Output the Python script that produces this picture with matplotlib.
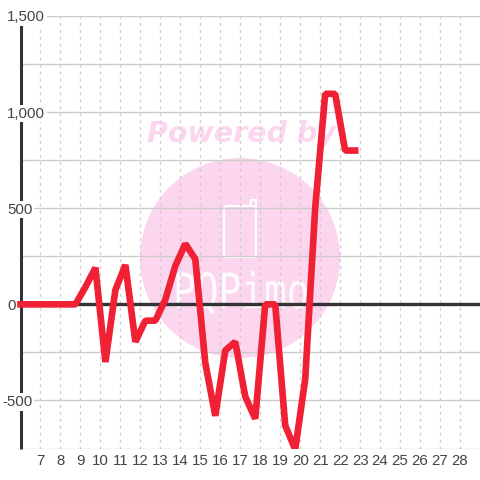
import matplotlib
matplotlib.use("Agg")
import matplotlib.pyplot as plt
from matplotlib.patches import Circle, FancyBboxPatch, PathPatch, Rectangle
from matplotlib.textpath import TextPath
from matplotlib.font_manager import FontProperties
from matplotlib.transforms import Affine2D, blended_transform_factory

plt.rcParams['font.family'] = ['Liberation Sans', 'DejaVu Sans']

# half day readings, day of month
days = [6, 6.25, 6.75, 7.25, 7.75, 8.25, 8.75, 9.25, 9.75, 10.25, 10.75, 11.25, 11.75,
        12.25, 12.75, 13.25, 13.75, 14.25, 14.75, 15.25, 15.75, 16.25, 16.75,
        17.25, 17.75, 18.25, 18.75, 19.25, 19.75, 20.25, 20.75, 21.25, 21.75,
        22.25, 22.75]
values = [0, 0, 0, 0, 0, 0, 0, 90, 190, -300, 75, 205, -195,
          -85, -85, 25, 200, 315, 235, -305, -580, -240, -195,
          -480, -595, 0, 0, -630, -755, -390, 500, 1095, 1095,
          800, 800]
day_ticks = list(range(7, 29))
y_grid = [-750, -500, -250, 0, 250, 500, 750, 1000, 1250, 1500]
y_labels = [-500, 0, 500, 1000, 1500]

fig = plt.figure(figsize=(4.8, 4.8), dpi=100)

# watermark sits under everything, drawn in pixels
bg = fig.add_axes([0, 0, 1, 1])
bg.set_xlim(0, 480)
bg.set_ylim(480, 0)
bg.axis('off')
bg.add_patch(Circle((240, 258), 100, color='#fcd6ee', lw=0))
bg.text(241.5, 134, 'Powered by', family='DejaVu Sans', weight='bold', style='italic',
        fontsize=20.5, color='#fcd6ee', ha='center', va='center')
bg.add_patch(FancyBboxPatch((224, 206), 32, 51, boxstyle='round,pad=0,rounding_size=3',
                            fc='none', ec='white', lw=1.5))
bg.plot([250, 251, 256, 256], [206, 200, 200, 206], color='white', lw=1.5)
# wordmark is stretched, y axis of bg points down so flip it
word = TextPath((0, 0), 'PQPimo', size=36, prop=FontProperties(family='DejaVu Sans Mono'))
word_tf = Affine2D().scale(1.05, -1.35).translate(173, 308) + bg.transData
bg.add_patch(PathPatch(word, fc='white', ec='none', alpha=0.9, transform=word_tf))

ax = fig.add_axes([20.5 / 480, (480 - 448.5) / 480, (480 - 20.5) / 480, (448.5 - 16) / 480])
ax.patch.set_alpha(0)
ax.set_xlim(6, 29)
ax.set_ylim(-750, 1500)
for s in ax.spines.values():
    s.set_visible(False)
ax.spines['left'].set_visible(True)
ax.spines['left'].set_linewidth(2.2)
ax.spines['left'].set_color('#333333')
ax.spines['left'].set_capstyle('butt')
ax.spines['left'].set_zorder(3)

ax.set_yticks(y_grid)
ax.set_yticklabels([])
ax.set_xticks(day_ticks)
ax.tick_params(axis='both', length=0)
ax.tick_params(axis='x', labelsize=10.8, labelcolor='#444444', pad=4)
ax.grid(axis='y', color='#cccccc', lw=1)
ax.grid(axis='x', color='#cccccc', lw=1, linestyle=(0, (2, 3)))
ax.set_axisbelow(True)
ax.axhline(0, color='#333333', lw=2.4, zorder=2)

line, = ax.plot(days, values, color='#f02035', lw=4.8, solid_joinstyle='bevel',
                solid_capstyle='projecting', zorder=6)
# line runs past the axis on the left but is cut at the bottom
line.set_clip_path(Rectangle((5, -750), 24, 2250, transform=ax.transData))

# y labels sit on white boxes that break the axis line
trans = blended_transform_factory(fig.transFigure, ax.transData)
for v in y_labels:
    left = 2 / 480 if v < 0 else 7 / 480
    ax.text(left, v, f'{v:,}', transform=trans, fontsize=10.8, color='#444444',
            ha='left', va='center_baseline', zorder=5, clip_on=False,
            bbox=dict(fc='white', ec='none', pad=1.2))

fig.savefig('out.png', dpi=100)
